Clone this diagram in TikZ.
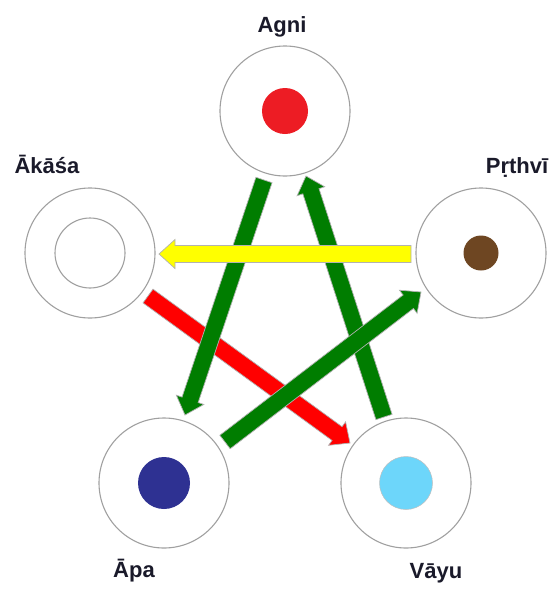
\documentclass[tikz,border=0pt]{standalone}
\usepackage{fontspec}
\setmainfont{Liberation Sans}
\usetikzlibrary{calc}
\definecolor{ringgray}{HTML}{A0A0A0}
\definecolor{agnired}{HTML}{ED1C24}
\definecolor{earthbrown}{HTML}{6E4622}
\definecolor{waterblue}{HTML}{2E3192}
\definecolor{airblue}{HTML}{6DD6FA}
\definecolor{arrgreen}{HTML}{007D00}
\definecolor{arrred}{HTML}{FF0000}
\definecolor{arryellow}{HTML}{FFFF00}
\definecolor{labelcol}{HTML}{1A1A2A}
\tikzset{
  ring/.style={circle, draw=ringgray, line width=1.1pt, fill=white, minimum size=130pt, inner sep=0pt},
  dotnode/.style={circle, inner sep=0pt, draw=none},
  lbl/.style={anchor=base, text=labelcol, font=\fontsize{22}{26}\selectfont\bfseries, inner sep=0pt},
  arrowline/.style={draw=black!30, line width=0.7pt, line join=miter},
}
\newcommand\blockarrow[3]{%
  \coordinate (ba-h) at ($(#3)!16pt!(#2)$);
  \filldraw[arrowline, fill=#1]
    ($(#2)!8.5pt!90:(#3)$) -- ($(ba-h)!8.5pt!90:(#3)$) -- ($(ba-h)!14.5pt!90:(#3)$) -- (#3)
    -- ($(ba-h)!14.5pt!-90:(#3)$) -- ($(ba-h)!8.5pt!-90:(#3)$) -- ($(#2)!8.5pt!-90:(#3)$) -- cycle;
}
\begin{document}
\begin{tikzpicture}[x=1pt, y=-1pt]
\useasboundingbox (0,0) rectangle (556,590);
% outer rings
\node[ring] (agni) at (285,111) {};
\node[ring] (akasa) at (90,253) {};
\node[ring] (prthvi) at (481,253) {};
\node[ring] (apa) at (164,483) {};
\node[ring] (vayu) at (406,483) {};
% inner dots
\node[dotnode, fill=agnired, minimum size=46pt] (agnidot) at (agni) {};
\node[circle, draw=ringgray, line width=1.1pt, fill=white, minimum size=70pt, inner sep=0pt] (akasadot) at (akasa) {};
\node[dotnode, fill=earthbrown, minimum size=35pt] (prthvidot) at (prthvi) {};
\node[dotnode, fill=waterblue, minimum size=52pt] (apadot) at (apa) {};
\node[dotnode, fill=airblue, draw=black!25, line width=0.5pt, minimum size=53pt] (vayudot) at (vayu) {};
% labels
\node[lbl] (agnilbl) at (282,32) {Agni};
\node[lbl] (akasalbl) at (47,173) {Ākāśa};
\node[lbl] (prthvilbl) at (517,173) {Pṛthvī};
\node[lbl] (apalbl) at (134,577) {Āpa};
\node[lbl] (vayulbl) at (436,578) {Vāyu};
% arrow end points
\coordinate (rS) at ($(akasa)+(58,43)$);
\coordinate (rE) at ($(vayu)+(-56,-40)$);
\coordinate (g1S) at ($(agni)+(-21,69)$);
\coordinate (g1E) at ($(apa)+(21,-68)$);
\coordinate (g2S) at ($(vayu)+(-22,-66)$);
\coordinate (g2E) at ($(agni)+(21,65)$);
\coordinate (g3S) at ($(apa)+(61,-41)$);
\coordinate (g3E) at ($(prthvi)+(-60,39)$);
\coordinate (yS) at ($(prthvi)+(-70,1)$);
\coordinate (yE) at ($(akasa)+(69,1)$);
% arrows (bottom to top)
\blockarrow{arrred}{rS}{rE}
\blockarrow{arrgreen}{g1S}{g1E}
\blockarrow{arrgreen}{g2S}{g2E}
\blockarrow{arrgreen}{g3S}{g3E}
\blockarrow{arryellow}{yS}{yE}
\end{tikzpicture}
\end{document}
